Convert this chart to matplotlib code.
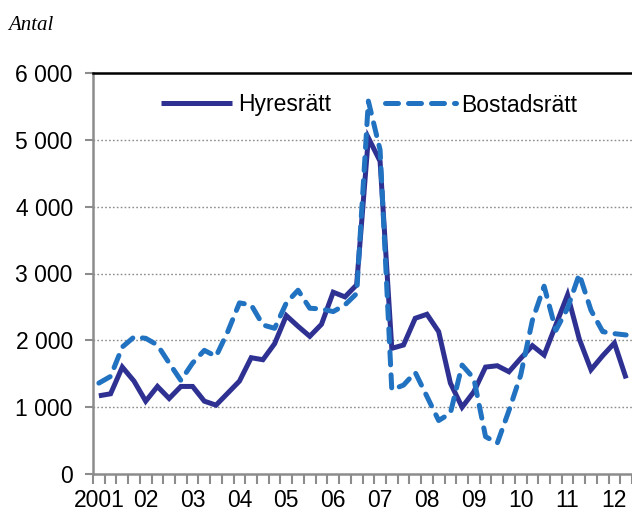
import matplotlib
matplotlib.use("Agg")
import matplotlib.pyplot as plt
import numpy as np

# 2001Q1 .. 2012Q2, quarterly
year_labels = ["2001", "02", "03", "04", "05", "06", "07", "08", "09", "10", "11", "12"]
hyresratt = [1170, 1200, 1600, 1390, 1090, 1310, 1130, 1310, 1310, 1090, 1030, 1210,
             1390, 1740, 1710, 1950, 2370, 2210, 2060, 2240, 2720, 2650, 2830, 5030,
             4680, 1880, 1930, 2330, 2390, 2130, 1360, 1000, 1230, 1600, 1620, 1530,
             1730, 1920, 1780, 2230, 2680, 2020, 1560, 1770, 1960, 1430]
bostadsratt = [1360, 1460, 1900, 2050, 2030, 1930, 1660, 1400, 1660, 1850, 1760, 2130,
               2560, 2530, 2230, 2180, 2560, 2750, 2480, 2470, 2430, 2530, 2700, 5580,
               4850, 1260, 1330, 1520, 1160, 800, 910, 1630, 1430, 560, 460, 950,
               1480, 2300, 2810, 2150, 2480, 2990, 2450, 2130, 2100, 2080]
series_names = ["Hyresrätt", "Bostadsrätt"]
yticks = [0, 1000, 2000, 3000, 4000, 5000, 6000]
ytick_labels = ["0", "1 000", "2 000", "3 000", "4 000", "5 000", "6 000"]

plt.rcParams['font.family'] = ['Liberation Sans', 'DejaVu Sans']

W, H = 632, 515
fig = plt.figure(figsize=(W / 100, H / 100), dpi=100)
ax = fig.add_axes([93 / W, 1 - 474 / H, (W - 93) / W, (474 - 73) / H])

n = len(hyresratt)
x = np.arange(n) + 0.5
c_solid = "#2E3192"
c_dash = "#2172C1"
fs = 16.5

ax.plot(x, hyresratt, color=c_solid, lw=3.6, solid_joinstyle='miter',
        solid_capstyle='butt', label=series_names[0], zorder=3)
ax.plot(x, bostadsratt, color=c_dash, lw=3.6, dashes=(2.6, 2.0),
        dash_capstyle='round', label=series_names[1], zorder=4)

ax.set_xlim(0, n)
ax.set_ylim(0, 6000)

# grid
for v in yticks[1:-1]:
    ax.axhline(v, color="#8c8c8c", lw=1.0, ls=(0, (1.2, 1.6)), zorder=1)

ax.set_yticks(yticks)
ax.set_yticklabels(ytick_labels)
ax.set_xticks(np.arange(0, n + 1))
ax.set_xticklabels([])
ax.set_xticks(np.arange(0, n, 4) + 0.5, minor=True)
ax.set_xticklabels(year_labels, minor=True)

ax.tick_params(axis='y', length=6, width=1.5, color="#8c8c8c", pad=8.5, labelsize=fs,
               labelcolor='black')
ax.tick_params(axis='x', which='major', length=7, width=1.5, color="#8c8c8c")
ax.tick_params(axis='x', which='minor', length=0, pad=11, labelsize=fs)

for s in ['left', 'bottom']:
    ax.spines[s].set_color("#8c8c8c")
    ax.spines[s].set_linewidth(1.8)
ax.spines['right'].set_visible(False)
ax.spines['top'].set_color("black")
ax.spines['top'].set_linewidth(1.8)

leg = ax.legend(loc='center left', bbox_to_anchor=(161 / W, 1 - 105 / H),
                bbox_transform=fig.transFigure, ncol=2, frameon=False,
                fontsize=fs, handlelength=3.1, handletextpad=0.25,
                columnspacing=2.35, borderpad=0, borderaxespad=0)

fig.text(8 / W, 1 - 30 / H, "Antal", family=['Liberation Serif'], style='italic',
         fontsize=15, ha='left', va='baseline')

fig.savefig("out.png", dpi=100)
